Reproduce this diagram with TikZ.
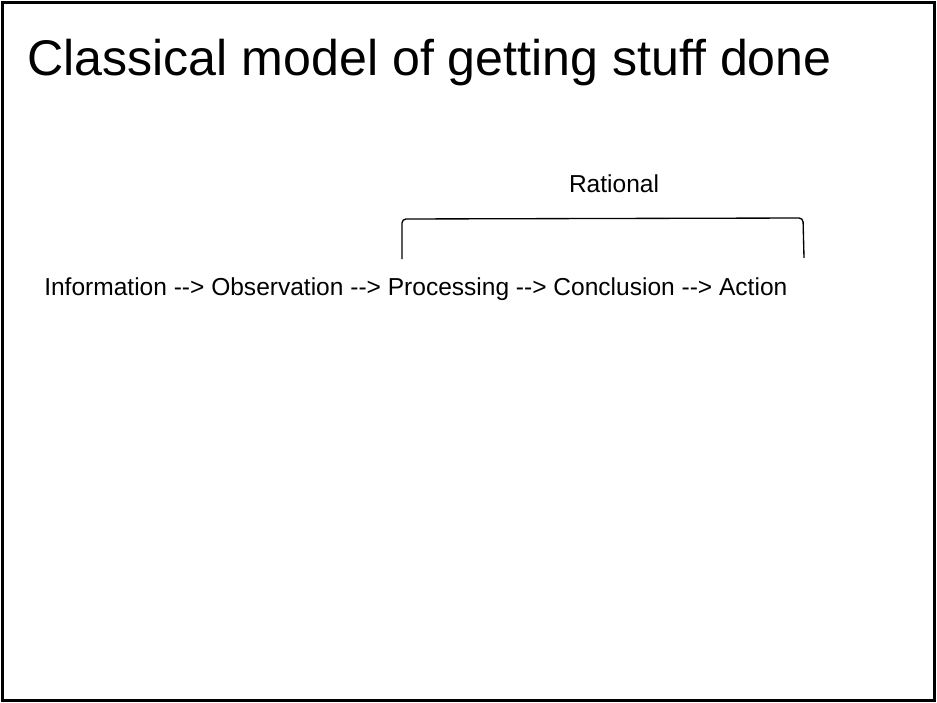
\documentclass[tikz,border=0pt]{standalone}
\usepackage{fontspec}
\setmainfont{Liberation Sans}
\begin{document}
\begin{tikzpicture}[x=0.75pt,y=-0.75pt,
    title/.style={anchor=base west,inner sep=0pt,font=\fontsize{37.6}{44}\selectfont},
    chain/.style={anchor=base west,inner sep=0pt,font=\fontsize{18.4}{22}\selectfont}]
    \useasboundingbox (0,0) rectangle (937,702);
    \draw[line width=2.25pt] (2.5,2.5) rectangle (934.5,700.5);

    \node[title] (T) at (27,76) {Classical model of getting stuff done};
    \node[chain] (C) at (44,295) {Information -{}-> Observation -{}-> Processing -{}-> Conclusion -{}-> Action};
    \node[chain,anchor=base] (R) at (614,193) {Rational};

    \coordinate (L) at (402,259);
    \coordinate (E) at (804,258);
    \draw[line width=1pt,rounded corners=3pt] (L) -- (402,219) -- (803,218) -- (E);
\end{tikzpicture}
\end{document}
